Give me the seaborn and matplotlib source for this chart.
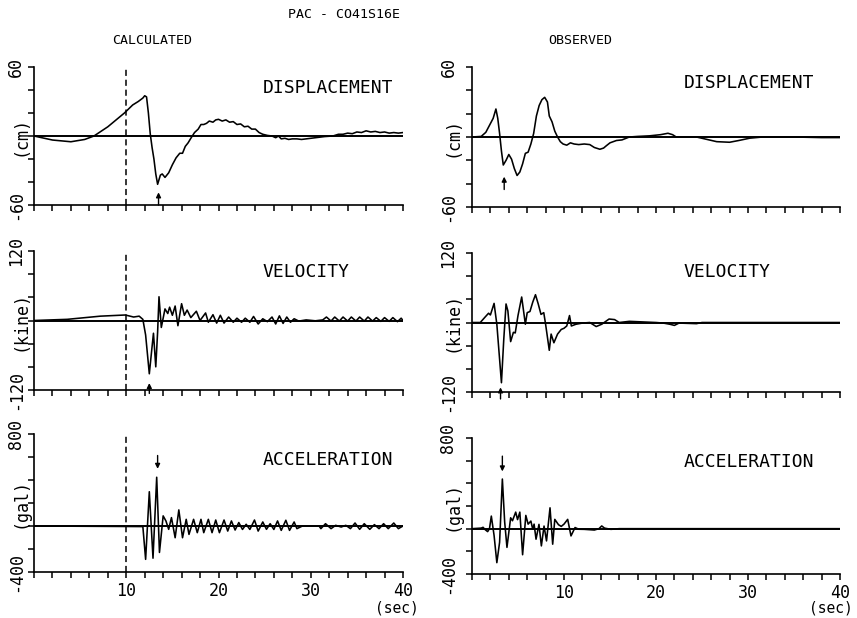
import matplotlib
matplotlib.use("Agg")
import matplotlib.pyplot as plt
import matplotlib.transforms as mtransforms
import seaborn as sns

# ---------------- data ----------------
calc_disp_t = [0, 2, 4, 5.5, 6.5, 8, 9.8, 10.7, 11.3, 11.8, 12.0, 12.2, 12.4, 12.6, 12.8, 13.0, 13.2,
               13.4, 13.7, 13.9, 14.2, 14.6, 15.0, 15.4, 15.8, 16.1, 16.4, 16.7, 17.0, 17.4, 17.8,
               18.1, 18.4, 18.7, 19.0, 19.4, 19.7, 20.0, 20.4, 20.8, 21.2, 21.6, 22.0, 22.4, 22.8,
               23.2, 23.6, 24.0, 24.4, 24.8, 25.3, 25.8, 26.2, 26.5, 26.8, 27.2, 27.6, 28.0, 28.5,
               29.0, 29.5, 30.5, 31.5, 32.4, 33.0, 33.5, 34.0, 34.5, 35.0, 35.5, 36.0, 36.5, 37.0,
               37.5, 38.0, 38.5, 39.0, 39.5, 40]
calc_disp_v = [0, -3.5, -5, -3, 0, 8, 20, 27, 30, 33, 35, 34, 20, 2, -10, -20, -33,
               -42, -34, -33, -36, -32, -25, -19, -15, -15, -9, -6, -2, 3, 6,
               10, 10, 11, 13, 12, 14, 14.5, 13, 14, 12, 12.5, 10, 10.5, 8,
               8.5, 6, 6, 3, 1.5, 0.5, 0, -1.5, 0, -2.5, -2, -3, -2.5, -2.5,
               -3, -2.5, -1.5, -0.5, 0, 1.5, 1.5, 2.5, 2, 3.5, 3, 4.5, 3.5, 4,
               3, 3.5, 2.5, 3, 2.5, 3]

obs_disp_t = [0, 1.0, 1.5, 1.9, 2.3, 2.6, 2.8, 3.0, 3.2, 3.4, 3.7, 4.0, 4.3, 4.6, 4.9, 5.2, 5.5,
              5.8, 6.1, 6.4, 6.7, 7.0, 7.3, 7.6, 7.9, 8.2, 8.4, 8.7, 9.0, 9.3, 9.6, 9.9, 10.3,
              10.7, 11.1, 11.6, 12.2, 12.8, 13.3, 13.9, 14.3, 14.6, 15.0, 15.7, 16.3, 17.1, 18.0,
              19.3, 20.5, 21.3, 21.8, 22.2, 24.4, 25.5, 26.6, 28.0, 29.0, 30.2, 31.6, 35, 38, 40]
obs_disp_v = [0, 0.5, 4, 10, 16, 24, 16, 3, -12, -24, -20, -15, -19, -27, -33, -30, -23,
              -14, -13, -6, 3, 18, 27, 32, 34, 30, 18, 13, 5, 0, -4, -6, -7,
              -5, -6, -6.5, -6, -6.5, -9, -10.5, -9.5, -7.5, -5, -3, -2.5, 0, 0.5,
              1, 2, 3.2, 2, 0, 0, -2, -4, -4.5, -3, -1, 0, 0, -0.5, -0.5]

calc_vel_t = [0, 3.6, 7.2, 9.9, 10.8, 11.4, 11.8, 12.1, 12.5, 12.8, 12.95, 13.2, 13.4, 13.55, 13.8,
              14.2, 14.5, 14.7, 15.0, 15.3, 15.6, 16.0, 16.3, 16.6, 17.0, 17.6, 18.0, 18.6, 18.9,
              19.4, 19.8, 20.2, 20.6, 21.1, 21.6, 22.0, 22.5, 22.9, 23.4, 23.8, 24.3, 24.8, 25.3,
              25.8, 26.2, 26.6, 27.0, 27.4, 27.8, 28.2, 28.7, 29.5, 30.5, 31.3, 31.7, 32.2, 32.6,
              33.1, 33.5, 34.0, 34.4, 34.9, 35.3, 35.8, 36.2, 36.7, 37.1, 37.6, 38.0, 38.5, 38.9,
              39.4, 39.8, 40]
calc_vel_v = [0, 2, 7.5, 9.5, 6, 7.5, 2, -25, -92, -45, -22, -80, -20, 41, -12,
              20, 12, 23, 9, 25, -9, 29, 9, 18, 5, 16, 0, 13, -3,
              10, -4.5, 9, -4.5, 6, -3, 4, -3, 4, -3, 7, -6, 3, -2,
              6, -6, 8, -5, 6, -3, 3, -1, 1, -0.5, 1, 6, -1, 6,
              -1, 6, -1, 6, -1, 6, -1, 6, -1, 5, -1.5, 5, -1.5, 5,
              -2, 4, 0]

obs_vel_t = [0, 0.9, 1.4, 1.8, 2.0, 2.4, 2.7, 3.2, 3.45, 3.7, 3.9, 4.2, 4.5, 4.7, 5.0, 5.4, 5.8,
             6.0, 6.3, 6.6, 6.9, 7.2, 7.5, 7.8, 8.0, 8.4, 8.6, 8.9, 9.3, 9.7, 10.0, 10.3, 10.6,
             10.8, 11.3, 12.0, 12.8, 13.5, 14.1, 14.9, 15.5, 16.0, 17.1, 20.0, 20.8, 21.5, 22.0,
             22.5, 24.4, 25, 40]
obs_vel_v = [0, 0, 9, 16, 13, 33, -3, -104, -30, 32, 20, -33, -17, -18, 12, 44, -3,
             17, 19, 35, 48, 32, 14, 17, -3, -48, -20, -35, -20, -12, -10, -6, 12,
             -6, -3, -1, 0, -7, -3, 6, 5, 0, 2, 0, -1, -3, -5,
             -1, -2, 0, 0]

calc_acc_t = [0, 11.8, 12.1, 12.5, 12.9, 13.3, 13.6, 14.0, 14.3, 14.6, 14.9, 15.3, 15.7, 16.1, 16.5,
              16.8, 17.3, 17.7, 18.1, 18.4, 18.9, 19.3, 19.7, 20.1, 20.6, 21.0, 21.4, 21.8, 22.2,
              22.6, 23.0, 23.4, 23.9, 24.3, 24.8, 25.2, 25.6, 26.0, 26.4, 26.8, 27.3, 27.7, 28.2,
              28.5, 29.1, 30.9, 31.1, 31.6, 32.2, 32.7, 33.3, 33.8, 34.3, 34.8, 35.3, 35.8, 36.4,
              36.9, 37.4, 37.9, 38.4, 39.0, 39.5, 40]
calc_acc_v = [0, -5, -290, 298, -280, 424, -230, 88, 44, -29, 73, -102, 140, -102, 58,
              -73, 58, -58, 58, -58, 58, -58, 52, -58, 52, -44, 44, -35, 30,
              -30, 15, -30, 52, -44, 35, -29, 20, -30, 44, -38, 50, -38, 35,
              -23, 0, 0, -23, 20, -23, 6, -9, 6, -23, 26, -29, 20, -29,
              12, -23, 20, -23, 26, -23, 0]

obs_acc_t = [0, 1.0, 1.2, 1.45, 1.7, 1.9, 2.1, 2.4, 2.7, 3.0, 3.3, 3.55, 3.8, 4.2, 4.4, 4.75,
             4.95, 5.2, 5.5, 5.85, 6.1, 6.4, 6.6, 6.75, 6.96, 7.28, 7.54, 7.83, 8.1, 8.48, 8.77,
             9.0, 9.4, 9.7, 10.0, 10.4, 10.76, 11.2, 11.6, 12.2, 13.3, 13.8, 14.1, 14.4, 15.1,
             16, 40]
obs_acc_v = [0, 5, 12, -10, -26, 0, 111, -60, -300, -120, 438, 60, -165, 96, 70, 146,
             80, 146, -230, 117, 40, 67, -5, 40, -93, 38, -152, 23, -108, 184, -137,
             82, 35, 20, 40, 82, -64, 10, -5, -6, -12, 0, 24, 5, -6,
             0, 0]

panel_names = ["DISPLACEMENT", "VELOCITY", "ACCELERATION"]
units = ["(cm)", "(kine)", "(gal)"]
ylims = [(-60, 60), (-120, 120), (-400, 800)]
ysteps = [20, 40, 200]
x_ticklabels = ["10", "20", "30", "40"]

# arrows: (time, head, tail)
calc_arrows = [(13.5, -49, -60), (12.5, -108, -126), (13.4, 497, 613)]
obs_arrows = [(3.5, -34, -45), (3.1, -112, -132), (3.3, 505, 640)]

# ---------------- figure ----------------
sns.set_style("ticks")
mono = "DejaVu Sans Mono"
plt.rcParams["font.family"] = [mono]
plt.rcParams["axes.linewidth"] = 1.2
plt.rcParams["text.color"] = "black"
plt.rcParams["axes.labelcolor"] = "black"
plt.rcParams["xtick.color"] = "black"
plt.rcParams["ytick.color"] = "black"
plt.rcParams["axes.edgecolor"] = "black"

W, H = 857, 618
fig = plt.figure(figsize=(W / 100, H / 100), dpi=100)


def pos(x0, x1, y0, y1):
    return [x0 / W, 1 - y1 / H, (x1 - x0) / W, (y1 - y0) / H]


left_rows = [(67, 205), (251, 390), (434, 572)]
right_rows = [(67, 207), (253, 392), (438, 574)]
cols = [
    dict(x0=34, x1=403, rows=left_rows, data=[(calc_disp_t, calc_disp_v), (calc_vel_t, calc_vel_v),
                                              (calc_acc_t, calc_acc_v)],
         arrows=calc_arrows, dashed=True, lab_x=0.62, lab_y=[0.85, 0.85, 0.81], ylab_off=-0.037,
         tpad=2.5, sec_x=39.3),
    dict(x0=472, x1=840, rows=right_rows, data=[(obs_disp_t, obs_disp_v), (obs_vel_t, obs_vel_v),
                                                (obs_acc_t, obs_acc_v)],
         arrows=obs_arrows, dashed=False, lab_x=0.575, lab_y=[0.885, 0.86, 0.82], ylab_off=-0.054,
         tpad=6.5, sec_x=39.0),
]

for col in cols:
    for i in range(3):
        y0, y1 = col["rows"][i]
        ax = fig.add_axes(pos(col["x0"], col["x1"], y0, y1))
        t, v = col["data"][i]
        sns.lineplot(x=t, y=v, ax=ax, color="black", linewidth=1.15, estimator=None, sort=False)
        ax.axhline(0, color="black", linewidth=1.4, zorder=1)
        if col["dashed"]:
            ax.axvline(10, color="black", linewidth=1.1, linestyle=(0, (4, 2.5)))
        lo, hi = ylims[i]
        ax.set_xlim(0, 40)
        ax.set_ylim(lo, hi)
        yt = list(range(lo, hi + 1, ysteps[i]))
        ax.set_yticks(yt)
        ylabels = [""] * len(yt)
        ylabels[0] = str(lo)
        ylabels[-1] = str(hi)
        ax.set_yticklabels(ylabels, rotation=90, va="center", fontsize=12)
        ax.set_xticks(list(range(0, 41, 2)))
        if i == 2:
            xl = ["" for _ in range(0, 41, 2)]
            for lab in x_ticklabels:
                xl[int(lab) // 2] = lab
            ax.set_xticklabels(xl, fontsize=12)
            trans = mtransforms.blended_transform_factory(ax.transData, fig.transFigure)
            ax.text(col["sec_x"], 1 - 608 / H, "(sec)", transform=trans, ha="center",
                    va="center", fontsize=10.5)
        else:
            ax.set_xticklabels([])
        ax.tick_params(axis="both", direction="out", length=4, width=1.1, colors="black")
        ax.tick_params(axis="x", pad=3)
        ax.tick_params(axis="y", pad=col["tpad"])
        ax.set_xlabel("")
        ax.set_ylabel("")
        sns.despine(ax=ax, top=True, right=True)
        ax.text(col["lab_x"], col["lab_y"][i], panel_names[i], transform=ax.transAxes,
                ha="left", va="center", fontsize=13)
        ax.text(col["ylab_off"], 0.5, units[i], transform=ax.transAxes, rotation=90,
                ha="center", va="center", fontsize=12)
        at, head, tail = col["arrows"][i]
        ax.annotate("", xy=(at, head), xytext=(at, tail), annotation_clip=False,
                    arrowprops=dict(arrowstyle="-|>", color="black", lw=1.0,
                                    mutation_scale=7, shrinkA=0, shrinkB=0))

fig.text(344 / W, 1 - 15 / H, "PAC - CO41S16E", ha="center", va="center", fontsize=9.5)
fig.text(152 / W, 1 - 40 / H, "CALCULATED", ha="center", va="center", fontsize=9.5)
fig.text(580 / W, 1 - 40 / H, "OBSERVED", ha="center", va="center", fontsize=9.5)

fig.savefig("out.png", dpi=100, facecolor="white")
